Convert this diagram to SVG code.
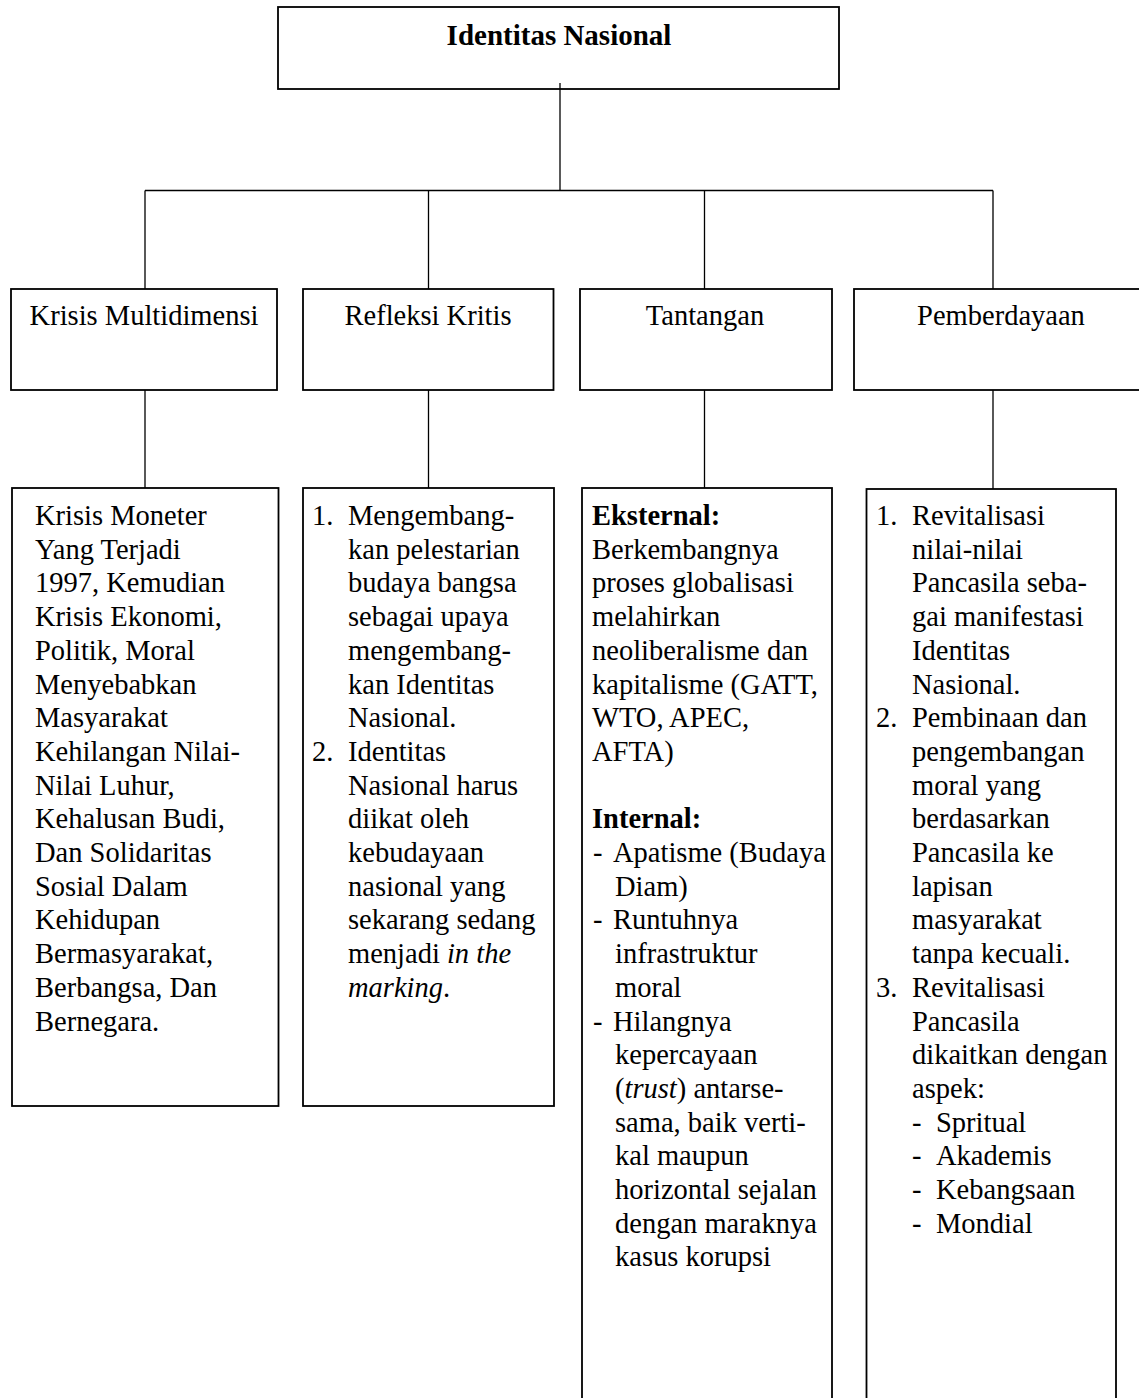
<svg xmlns="http://www.w3.org/2000/svg" width="1139" height="1398" viewBox="0 0 1139 1398">
  <style>
    .box { fill: #ffffff; stroke: #000000; stroke-width: 1.8; }
    .wire { fill: none; stroke: #000000; stroke-width: 1.3; }
    text { font-family: "Liberation Serif", "Times New Roman", serif; font-size: 28.5px; fill: #000000; }
    .title { font-weight: bold; text-anchor: middle; font-size: 29px; }
    .label { text-anchor: middle; }
    .b { font-weight: bold; }
    .i { font-style: italic; }
  </style>

  <rect width="1139" height="1398" fill="#ffffff"/>

  <!-- root -->
  <g id="node-identitas">
    <rect class="box" x="278" y="7" width="561" height="82"/>
    <text class="title" x="559" y="45">Identitas Nasional</text>
  </g>

  <!-- tree connectors -->
  <g id="connectors">
    <path class="wire" d="M560 83 V190.5"/>
    <path class="wire" d="M145 190.5 H993"/>
    <path class="wire" d="M145 190.5 V289 M428.5 190.5 V289 M704.5 190.5 V289 M993 190.5 V289"/>
    <path class="wire" d="M145 390 V488 M428.5 390 V488 M704.5 390 V488 M993 390 V489"/>
  </g>

  <!-- second level headings -->
  <g id="node-krisis">
    <rect class="box" x="11" y="289" width="266" height="101"/>
    <text class="label" x="144" y="325">Krisis Multidimensi</text>
  </g>
  <g id="node-refleksi">
    <rect class="box" x="303" y="289" width="250.5" height="101"/>
    <text class="label" x="428" y="325">Refleksi Kritis</text>
  </g>
  <g id="node-tantangan">
    <rect class="box" x="580" y="289" width="252" height="101"/>
    <text class="label" x="705" y="325">Tantangan</text>
  </g>
  <g id="node-pemberdayaan">
    <rect class="box" x="854" y="289" width="294" height="101"/>
    <text class="label" x="1001" y="325">Pemberdayaan</text>
  </g>

  <!-- detail: krisis multidimensi -->
  <g id="node-krisis-detail">
    <rect class="box" x="12" y="488" width="266.5" height="618"/>
    <text x="35" y="525">Krisis Moneter</text>
    <text x="35" y="558.7">Yang Terjadi</text>
    <text x="35" y="592.4">1997, Kemudian</text>
    <text x="35" y="626.1">Krisis Ekonomi,</text>
    <text x="35" y="659.8">Politik, Moral</text>
    <text x="35" y="693.5">Menyebabkan</text>
    <text x="35" y="727.2">Masyarakat</text>
    <text x="35" y="760.9">Kehilangan Nilai-</text>
    <text x="35" y="794.6">Nilai Luhur,</text>
    <text x="35" y="828.3">Kehalusan Budi,</text>
    <text x="35" y="862">Dan Solidaritas</text>
    <text x="35" y="895.7">Sosial Dalam</text>
    <text x="35" y="929.4">Kehidupan</text>
    <text x="35" y="963.1">Bermasyarakat,</text>
    <text x="35" y="996.8">Berbangsa, Dan</text>
    <text x="35" y="1030.5">Bernegara.</text>
  </g>

  <!-- detail: refleksi kritis -->
  <g id="node-refleksi-detail">
    <rect class="box" x="303" y="488" width="251" height="618"/>
    <text x="312" y="525">1.</text>
    <text x="348" y="525">Mengembang-</text>
    <text x="348" y="558.7">kan pelestarian</text>
    <text x="348" y="592.4">budaya bangsa</text>
    <text x="348" y="626.1">sebagai upaya</text>
    <text x="348" y="659.8">mengembang-</text>
    <text x="348" y="693.5">kan Identitas</text>
    <text x="348" y="727.2">Nasional.</text>
    <text x="312" y="760.9">2.</text>
    <text x="348" y="760.9">Identitas</text>
    <text x="348" y="794.6">Nasional harus</text>
    <text x="348" y="828.3">diikat oleh</text>
    <text x="348" y="862">kebudayaan</text>
    <text x="348" y="895.7">nasional yang</text>
    <text x="348" y="929.4">sekarang sedang</text>
    <text x="348" y="963.1">menjadi <tspan class="i">in the</tspan></text>
    <text x="348" y="996.8"><tspan class="i">marking</tspan>.</text>
  </g>

  <!-- detail: tantangan -->
  <g id="node-tantangan-detail">
    <rect class="box" x="582" y="488" width="250" height="940"/>
    <text class="b" x="592" y="525">Eksternal:</text>
    <text x="592" y="558.7">Berkembangnya</text>
    <text x="592" y="592.4">proses globalisasi</text>
    <text x="592" y="626.1">melahirkan</text>
    <text x="592" y="659.8">neoliberalisme dan</text>
    <text x="592" y="693.5">kapitalisme (GATT,</text>
    <text x="592" y="727.2">WTO, APEC,</text>
    <text x="592" y="760.9">AFTA)</text>
    <text class="b" x="592" y="828.3">Internal:</text>
    <text x="593" y="862">-</text>
    <text x="613" y="862">Apatisme (Budaya</text>
    <text x="615" y="895.7">Diam)</text>
    <text x="593" y="929.4">-</text>
    <text x="613" y="929.4">Runtuhnya</text>
    <text x="615" y="963.1">infrastruktur</text>
    <text x="615" y="996.8">moral</text>
    <text x="593" y="1030.5">-</text>
    <text x="613" y="1030.5">Hilangnya</text>
    <text x="615" y="1064.2">kepercayaan</text>
    <text x="615" y="1097.9">(<tspan class="i">trust</tspan>) antarse-</text>
    <text x="615" y="1131.6">sama, baik verti-</text>
    <text x="615" y="1165.3">kal maupun</text>
    <text x="615" y="1199">horizontal sejalan</text>
    <text x="615" y="1232.7">dengan maraknya</text>
    <text x="615" y="1266.4">kasus korupsi</text>
  </g>

  <!-- detail: pemberdayaan -->
  <g id="node-pemberdayaan-detail">
    <rect class="box" x="866.5" y="489" width="249.5" height="940"/>
    <text x="876" y="525">1.</text>
    <text x="912" y="525">Revitalisasi</text>
    <text x="912" y="558.7">nilai-nilai</text>
    <text x="912" y="592.4">Pancasila seba-</text>
    <text x="912" y="626.1">gai manifestasi</text>
    <text x="912" y="659.8">Identitas</text>
    <text x="912" y="693.5">Nasional.</text>
    <text x="876" y="727.2">2.</text>
    <text x="912" y="727.2">Pembinaan dan</text>
    <text x="912" y="760.9">pengembangan</text>
    <text x="912" y="794.6">moral yang</text>
    <text x="912" y="828.3">berdasarkan</text>
    <text x="912" y="862">Pancasila ke</text>
    <text x="912" y="895.7">lapisan</text>
    <text x="912" y="929.4">masyarakat</text>
    <text x="912" y="963.1">tanpa kecuali.</text>
    <text x="876" y="996.8">3.</text>
    <text x="912" y="996.8">Revitalisasi</text>
    <text x="912" y="1030.5">Pancasila</text>
    <text x="912" y="1064.2">dikaitkan dengan</text>
    <text x="912" y="1097.9">aspek:</text>
    <text x="912" y="1131.6">-</text>
    <text x="936" y="1131.6">Spritual</text>
    <text x="912" y="1165.3">-</text>
    <text x="936" y="1165.3">Akademis</text>
    <text x="912" y="1199">-</text>
    <text x="936" y="1199">Kebangsaan</text>
    <text x="912" y="1232.7">-</text>
    <text x="936" y="1232.7">Mondial</text>
  </g>
</svg>
